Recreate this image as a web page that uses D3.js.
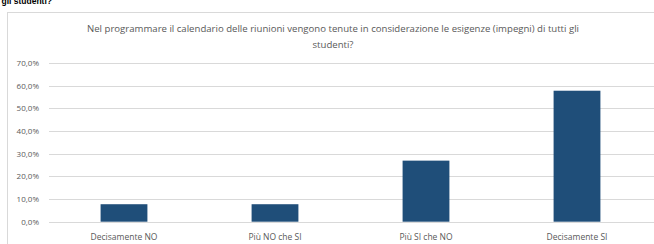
<!DOCTYPE html>
<html>
<head>
<meta charset="utf-8">
<script src="https://cdn.jsdelivr.net/npm/d3@7"></script>
<style>
  html, body { margin: 0; padding: 0; background: #fff; }
  svg { display: block; font-family: "Open Sans", "Liberation Sans", Arial, sans-serif; }
</style>
</head>
<body>
<div id="chart"></div>
<script>
const categories = ["Decisamente NO", "Più NO che SI", "Più SI che NO", "Decisamente SI"];
const values = [7.7, 7.7, 26.9, 57.7];
const yTicks = [0, 10, 20, 30, 40, 50, 60, 70];
const titleLines = ["Nel programmare il calendario delle riunioni vengono tenute in considerazione le esigenze (impegni) di tutti gli", "studenti?"];
const headerText = "tti gli studenti?";

const W = 654, H = 244;
const svg = d3.select("#chart").append("svg").attr("width", W).attr("height", H);

// cut-off heading above the chart box
svg.append("text")
    .attr("x", 52).attr("y", 4)
    .attr("text-anchor", "end")
    .attr("font-family", "'Liberation Sans', Arial, sans-serif")
    .attr("font-size", 8.5).attr("font-weight", "bold").attr("fill", "#000")
    .text(headerText);

// chart box
svg.append("rect")
    .attr("x", 7.5).attr("y", 12.5)
    .attr("width", 700).attr("height", 300)
    .attr("fill", "#fff").attr("stroke", "#d9d9d9");

// title
svg.append("g").selectAll("text")
    .data(titleLines)
    .join("text")
    .attr("x", 333)
    .attr("y", (d, i) => 31.5 + i * 16)
    .attr("text-anchor", "middle")
    .attr("font-size", 9.6)
    .attr("fill", "#595959")
    .text(d => d);

const x = d3.scaleBand().domain(categories).range([48.5, 652.5]).paddingInner(0.69).paddingOuter(0.345);
const y = d3.scaleLinear().domain([0, 70]).range([221.7, 62.8]);

// gridlines
svg.append("g").selectAll("line")
    .data(yTicks)
    .join("line")
    .attr("x1", 49).attr("x2", W)
    .attr("y1", d => Math.round(y(d)) + 0.5)
    .attr("y2", d => Math.round(y(d)) + 0.5)
    .attr("stroke", "#d9d9d9");

// y labels
svg.append("g").selectAll("text")
    .data(yTicks)
    .join("text")
    .attr("x", 39)
    .attr("y", d => y(d) + 3)
    .attr("text-anchor", "end")
    .attr("font-size", 8)
    .attr("fill", "#595959")
    .text(d => d.toFixed(1).replace(".", ",") + "%");

// bars
svg.append("g").selectAll("rect")
    .data(values)
    .join("rect")
    .attr("x", (d, i) => x(categories[i]))
    .attr("width", x.bandwidth())
    .attr("y", d => y(d))
    .attr("height", d => y(0) - y(d))
    .attr("fill", "#1f4e79");

// category labels
svg.append("g").selectAll("text")
    .data(categories)
    .join("text")
    .attr("x", d => x(d) + x.bandwidth() / 2)
    .attr("y", 240)
    .attr("text-anchor", "middle")
    .attr("font-size", 8.5)
    .attr("fill", "#595959")
    .text(d => d);
</script>
</body>
</html>
